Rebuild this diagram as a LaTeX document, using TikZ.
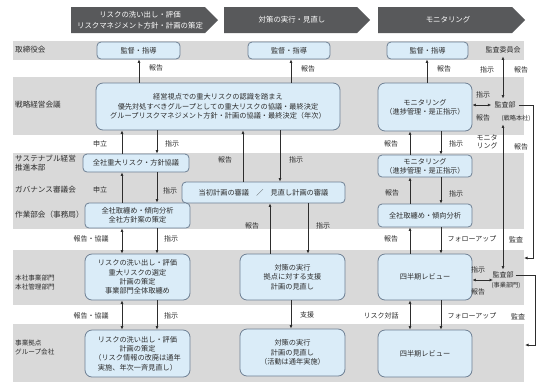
\documentclass[tikz,border=0pt]{standalone}
\usepackage{fontspec}
\setmainfont{Noto Sans CJK JP}
\usetikzlibrary{arrows.meta}
\definecolor{bandgray}{RGB}{217,217,217}
\definecolor{boxfill}{RGB}{218,236,248}
\definecolor{boxline}{RGB}{110,128,148}
\definecolor{headfill}{RGB}{88,89,91}
\definecolor{txt}{RGB}{45,45,45}
\begin{document}
\begin{tikzpicture}[x=1pt,y=-1pt,
  band/.style={fill=bandgray,draw=none},
  bx/.style={draw=boxline,fill=boxfill,line width=0.8pt,rounded corners=4pt,align=center,text=txt,font=\fontsize{7.2}{9.3}\selectfont,inner sep=0pt},
  rowlbl/.style={anchor=west,text=txt,font=\fontsize{7.6}{9.5}\selectfont,align=left,inner sep=0pt},
  rowlbls/.style={anchor=west,text=txt,font=\fontsize{6.6}{9}\selectfont,align=left,inner sep=0pt},
  lbl/.style={text=txt,font=\fontsize{7}{8.5}\selectfont,inner sep=1pt,align=center},
  small/.style={text=txt,font=\fontsize{6.2}{7}\selectfont,inner sep=1pt},
  arr/.style={draw=txt,line width=0.75pt,-{Latex[length=3.5pt,width=3pt]}},
  darr/.style={draw=txt,line width=0.75pt,{Latex[length=3.5pt,width=3pt]}-{Latex[length=3.5pt,width=3pt]}},
  line/.style={draw=txt,line width=0.75pt},
  head/.style={text=white,font=\fontsize{7.4}{11}\selectfont,align=center,inner sep=0pt},
]
\useasboundingbox (0,0) rectangle (540,384);
\fill[white] (0,0) rectangle (540,384);

% column coordinates
\coordinate (k122) at (122,0);
\coordinate (k139) at (139,0);
\coordinate (k157) at (157,0);
\coordinate (k243) at (243,0);
\coordinate (k270) at (270,0);
\coordinate (k280) at (280,0);
\coordinate (k291) at (291,0);
\coordinate (k308) at (308,0);
\coordinate (k410) at (410,0);
\coordinate (k427) at (427,0);
\coordinate (k441) at (441,0);
\coordinate (kD) at (503,0);
\coordinate (kR1) at (533,0);
\coordinate (kR2) at (535,0);
\coordinate (b1e) at (524,258);
\coordinate (b2e) at (525,345);
\coordinate (ah2) at (493,280);

% header arrows
\fill[headfill] (71,7) -- (205,7) -- (218,20) -- (205,33) -- (71,33) -- cycle;
\node[head] (h1) at (140,20) {リスクの洗い出し・評価\\リスクマネジメント方針・計画の策定};
\fill[headfill] (224,7) -- (357,7) -- (370,20) -- (357,33) -- (224,33) -- cycle;
\node[head] (h2) at (292,20) {対策の実行・見直し};
\fill[headfill] (378,7) -- (512,7) -- (525,20) -- (512,33) -- (378,33) -- cycle;
\node[head] (h3) at (448,20) {モニタリング};

% bands
\fill[band] (13,41) rectangle (524,60);
\fill[band] (13,77) rectangle (524,135);
\fill[band] (13,153) rectangle (524,229);
\fill[band] (13,250) rectangle (524,305);
\fill[band] (13,324) rectangle (524,382);

% row labels
\node[rowlbl] (r1) at (15,50) {取締役会};
\node[rowlbl] (r2) at (15,105) {戦略経営会議};
\node[rowlbl] (r3) at (15,163) {サステナブル経営\\推進本部};
\node[rowlbl] (r4) at (15,190) {ガバナンス審議会};
\node[rowlbl] (r5) at (15,215) {作業部会（事務局）};
\node[rowlbls] (r6) at (15,282) {本社事業部門\\本社管理部門};
\node[rowlbls] (r7) at (15,347) {事業拠点\\グループ会社};

% boxes
\node[bx,minimum width=83pt,minimum height=17pt] (A1) at (138.5,50.5) {監督・指導};
\node[bx,minimum width=82pt,minimum height=17pt] (A2) at (289,50.5) {監督・指導};
\node[bx,minimum width=81pt,minimum height=17pt] (A3) at (427.5,50.5) {監督・指導};
\node[bx,rounded corners=7pt,minimum width=244pt,minimum height=47pt] (B1) at (218,106.5) {経営視点での重大リスクの認識を踏まえ\\優先対処すべきグループとしての重大リスクの協議・最終決定\\グループリスクマネジメント方針・計画の協議・最終決定（年次）};
\node[bx,rounded corners=7pt,minimum width=94pt,minimum height=48pt] (B2) at (425,107) {モニタリング\\（進捗管理・是正指示）};
\node[bx,minimum width=106pt,minimum height=18pt] (C1) at (136,163) {全社重大リスク・方針協議};
\node[bx,minimum width=163pt,minimum height=21pt] (C2) at (263.5,192.5) {当初計画の審議\quad ／\quad 見直し計画の審議};
\node[bx,minimum width=94pt,minimum height=22pt] (C3) at (425,166) {モニタリング\\（進捗管理・是正指示）};
\node[bx,minimum width=105pt,minimum height=25pt] (D1) at (137.5,215.5) {全社取纏め・傾向分析\\全社方針案の策定};
\node[bx,minimum width=94pt,minimum height=23pt] (D2) at (425,215.5) {全社取纏め・傾向分析};
\node[bx,rounded corners=7pt,minimum width=105pt,minimum height=46pt] (E1) at (137.5,277) {リスクの洗い出し・評価\\重大リスクの選定\\計画の策定\\事業部門全体取纏め};
\node[bx,rounded corners=7pt,minimum width=105pt,minimum height=46pt] (E2) at (292.5,277) {対策の実行\\拠点に対する支援\\計画の見直し};
\node[bx,rounded corners=7pt,minimum width=94pt,minimum height=46pt] (E3) at (425,277) {四半期レビュー};
\node[bx,rounded corners=7pt,minimum width=105pt,minimum height=47pt] (F1) at (137.5,353.5) {リスクの洗い出し・評価\\計画の策定\\（リスク情報の改廃は通年\\実施、年次一斉見直し）};
\node[bx,rounded corners=7pt,minimum width=105pt,minimum height=47pt] (F2) at (292.5,352.5) {対策の実行\\計画の見直し\\（活動は通年実施）};
\node[bx,rounded corners=7pt,minimum width=94pt,minimum height=47pt] (F3) at (425,353.5) {四半期レビュー};

% audit nodes
\node[lbl,inner sep=3pt] (iinkai) at (503,50) {監査委員会};
\node[lbl,inner sep=3pt] (au1) at (505,105) {監査部};
\node[small,inner sep=3pt] (au1s) at (516,118) {(戦略本社)};
\node[lbl,inner sep=2pt] (au2) at (503,275) {監査部};
\node[small] (au2s) at (506,285) {(事業部門)};

% labels
\node[lbl] (t1) at (156,68) {報告};
\node[lbl] (t2) at (308,69) {報告};
\node[lbl] (t3) at (444,69) {報告};
\node[lbl] (t4) at (487,70) {指示};
\node[lbl] (t5) at (521,70) {報告};
\node[lbl] (t6) at (483,95) {指示};
\node[lbl] (t7) at (483,118) {報告};
\node[lbl] (t8) at (100,144) {申立};
\node[lbl] (t9) at (172,144) {指示};
\node[lbl] (t10) at (391,144) {報告};
\node[lbl] (t11) at (456,144) {指示};
\node[lbl] (t12) at (487,142) {モニタ\\リング};
\node[lbl] (t13) at (521,147) {報告};
\node[lbl] (t14) at (225,160) {報告};
\node[lbl] (t15) at (296,160) {指示};
\node[lbl] (t16) at (100,190) {申立};
\node[lbl] (t17) at (170,191) {指示};
\node[lbl] (t18) at (392,193) {報告};
\node[lbl] (t19) at (456,194) {指示};
\node[lbl] (t20) at (252,226) {報告};
\node[lbl] (t21) at (323,226) {指示};
\node[lbl] (t22) at (91,239) {報告・協議};
\node[lbl] (t23) at (171,239) {指示};
\node[lbl] (t24) at (391,239) {報告};
\node[lbl] (t25) at (472,239) {フォローアップ};
\node[lbl] (t26) at (516,240) {監査};
\node[lbl] (t27) at (478,270) {指示};
\node[lbl] (t28) at (478,292) {報告};
\node[lbl] (t29) at (91,316) {報告・協議};
\node[lbl] (t30) at (171,316) {指示};
\node[lbl] (t31) at (307,315) {支援};
\node[lbl] (t32) at (381,316) {リスク対話};
\node[lbl] (t33) at (472,316) {フォローアップ};
\node[lbl] (t34) at (518,317) {監査};

% arrows row1-row2
\draw[arr] (B1.north -| k139) -- (A1.south -| k139);
\draw[arr] (B1.north -| k291) -- (A2.south -| k291);
\draw[arr] (B2.north -| k427) -- (A3.south -| k427);
\draw[darr] (iinkai.south -| kD) -- (au1.north -| kD);
% row2-row3
\draw[arr] (C1.north -| k122) -- (B1.south -| k122);
\draw[arr] (B1.south -| k157) -- (C1.north -| k157);
\draw[arr] (C2.north -| k243) -- (B1.south -| k243);
\draw[arr] (B1.south -| k280) -- (C2.north -| k280);
\draw[arr] (C3.north -| k410) -- (B2.south -| k410);
\draw[arr] (B2.south -| k441) -- (C3.north -| k441);
\draw[darr] (au1s.south -| kD) -- (au2.north -| kD);
\draw[darr] (B2.east |- au1) -- (au1.west);
% within band3
\draw[arr] (D1.north -| k122) -- (C1.south -| k122);
\draw[arr] (C1.south -| k157) -- (D1.north -| k157);
\draw[arr] (D2.north -| k410) -- (C3.south -| k410);
\draw[arr] (C3.south -| k441) -- (D2.north -| k441);
\draw[arr] (E2.north -| k270) -- (C2.south -| k270);
\draw[arr] (C2.south -| k308) -- (E2.north -| k308);
% band3-band4
\draw[darr] (D1.south -| k122) -- (E1.north -| k122);
\draw[arr] (D1.south -| k157) -- (E1.north -| k157);
\draw[arr] (E3.north -| k410) -- (D2.south -| k410);
\draw[arr] (D2.south -| k441) -- (E3.north -| k441);
\draw[darr] (E3.east |- ah2) -- (ah2);
% band4-band5
\draw[darr] (E1.south -| k122) -- (F1.north -| k122);
\draw[arr] (E1.south -| k157) -- (F1.north -| k157);
\draw[arr] (E2.south -| k291) -- (F2.north -| k291);
\draw[darr] (E3.south -| k410) -- (F3.north -| k410);
\draw[arr] (E3.south -| k441) -- (F3.north -| k441);
% audit brackets
\draw[arr] (au1.east) -- (au1.east -| kR1) -- (kR1 |- b1e) -- (b1e);
\draw[arr] (au2.east) -- (au2.east -| kR2) -- (kR2 |- b2e) -- (b2e);
\end{tikzpicture}
\end{document}
